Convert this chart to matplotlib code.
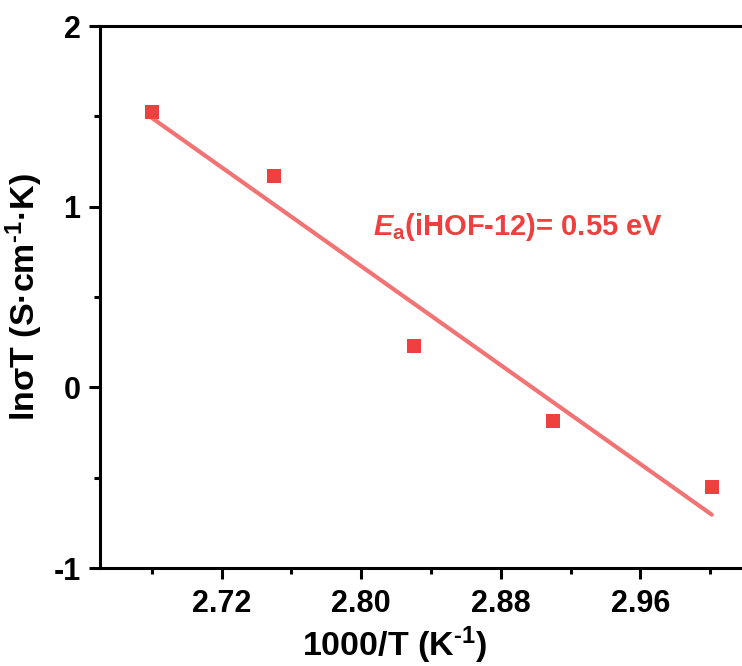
import matplotlib
matplotlib.use("Agg")
import matplotlib.pyplot as plt
import numpy as np
from matplotlib.ticker import MultipleLocator, FixedLocator

inv_T = [2.680, 2.750, 2.830, 2.910, 3.001]
ln_sigmaT = [1.525, 1.171, 0.227, -0.188, -0.552]
x_ticks = [2.72, 2.80, 2.88, 2.96]
x_tick_labels = ["2.72", "2.80", "2.88", "2.96"]
y_ticks = [-1, 0, 1, 2]
y_tick_labels = ["-1", "0", "1", "2"]
annotation = r"$E_{\mathrm{a}}$(iHOF-12)= 0.55 eV"

plt.rcParams["font.family"] = ["Liberation Sans", "DejaVu Sans"]
plt.rcParams["font.weight"] = "bold"
plt.rcParams["mathtext.fontset"] = "custom"
plt.rcParams["mathtext.rm"] = "Liberation Sans:bold"
plt.rcParams["mathtext.it"] = "Liberation Sans:italic:bold"
plt.rcParams["mathtext.bf"] = "Liberation Sans:bold"
plt.rcParams["axes.unicode_minus"] = False

fig = plt.figure(figsize=(7.42, 6.66), dpi=100)
ax = fig.add_axes([0.1348, 0.1471, 0.8652, 0.8138])

ax.set_xlim(2.6503, 3.0183)
ax.set_ylim(-1, 2)

red = "#EF3F3F"
coef = np.polyfit(inv_T, ln_sigmaT, 1)
xf = np.array([inv_T[0], inv_T[-1]])
ax.plot(xf, np.polyval(coef, xf), color="#F27373", lw=3.0, solid_capstyle="round", zorder=2)
ax.plot(inv_T, ln_sigmaT, "s", color=red, ms=10, mew=0, zorder=3)

ax.text(2.807, 0.845, annotation, color=red, fontsize=21, fontweight="bold")

for s in ["top", "left", "bottom"]:
    ax.spines[s].set_linewidth(2.2)
ax.spines["right"].set_visible(False)

ax.xaxis.set_major_locator(FixedLocator(x_ticks))
ax.set_xticklabels(x_tick_labels, fontsize=22, fontweight="bold")
ax.xaxis.set_minor_locator(MultipleLocator(0.04))
ax.yaxis.set_major_locator(FixedLocator(y_ticks))
ax.set_yticklabels(y_tick_labels, fontsize=22, fontweight="bold")
ax.yaxis.set_minor_locator(MultipleLocator(0.5))
ax.tick_params(which="major", direction="out", length=8, width=2.2, top=False, right=False, pad=6)
ax.tick_params(which="minor", direction="out", length=4, width=2.2, top=False, right=False)
ax.tick_params(axis="x", which="major", pad=7)

ax.set_xlabel(r"1000/T (K$^{\text{-1}}$)", fontsize=24.5, fontweight="bold", labelpad=2)
ax.xaxis.set_label_coords(0.4595, -0.105)
ax.set_ylabel(r"ln$\mathrm{\sigma}$T (S·cm$^{\text{-1}}$·K)", fontsize=24.5, fontweight="bold", labelpad=6)

fig.savefig("out.png", dpi=100)
